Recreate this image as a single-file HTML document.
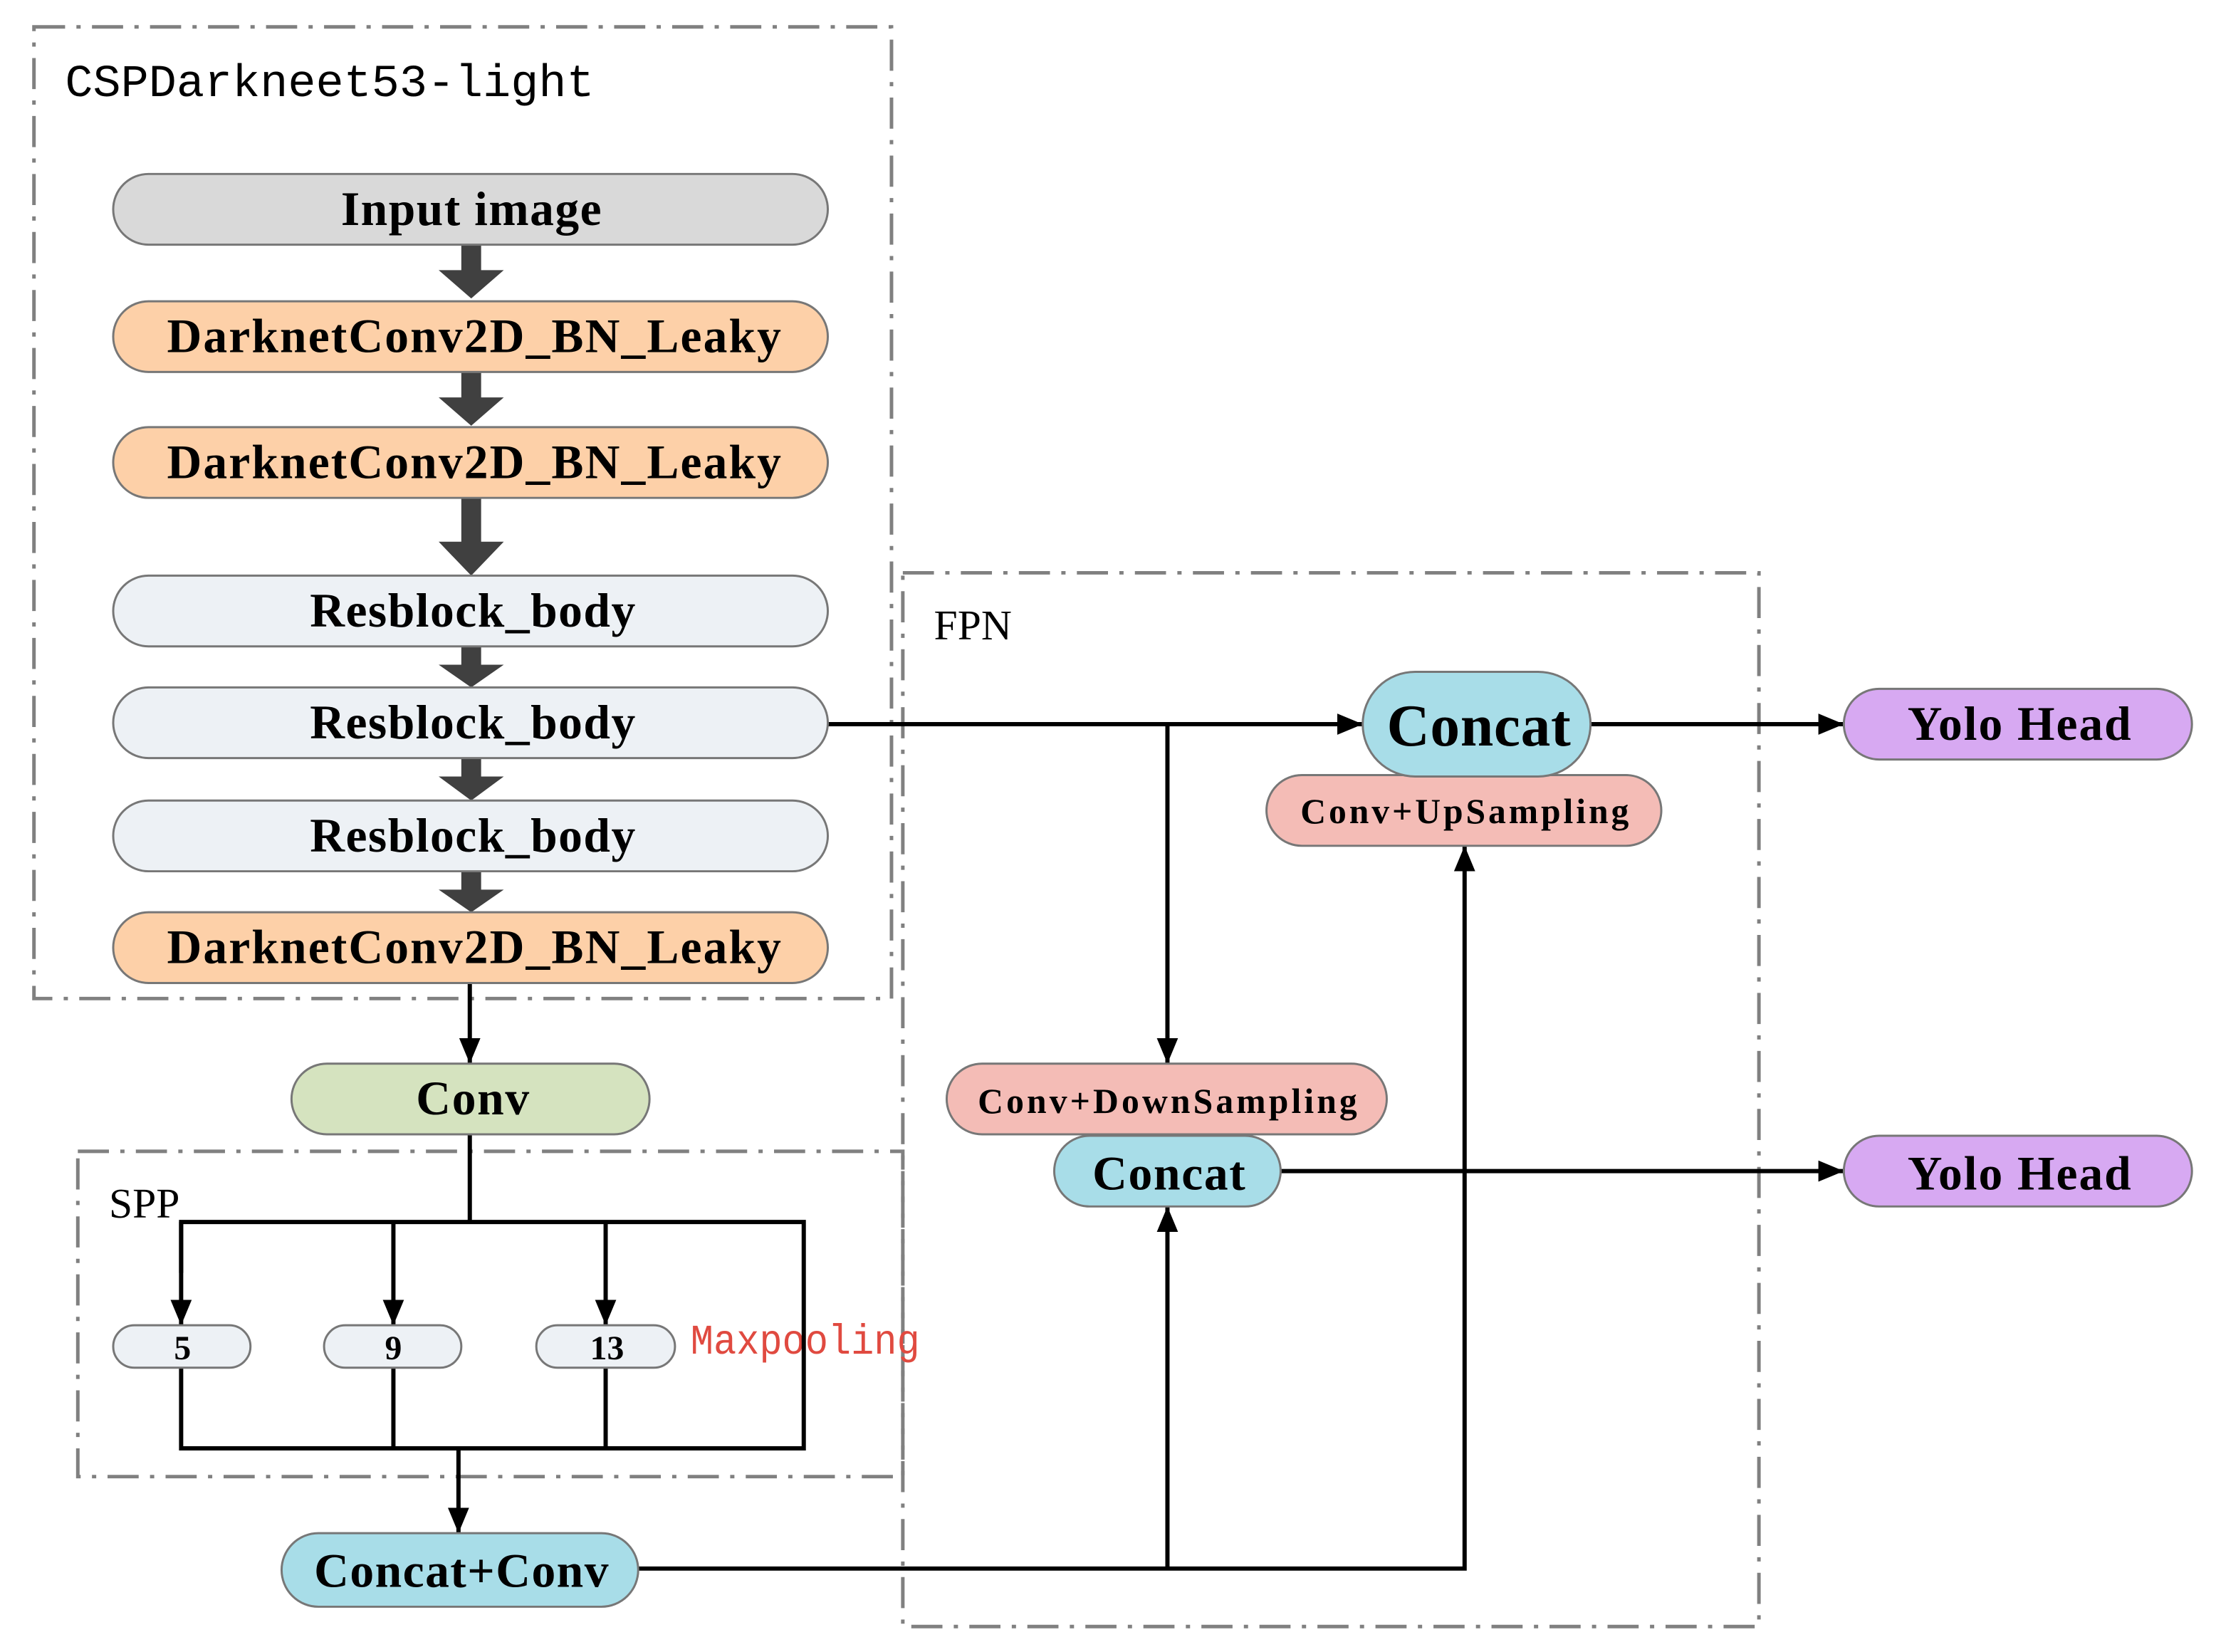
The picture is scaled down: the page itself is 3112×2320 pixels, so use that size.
<!DOCTYPE html>
<html><head><style>html,body{margin:0;padding:0;background:#fff}svg{display:block}</style></head><body>
<svg xmlns="http://www.w3.org/2000/svg" width="3112" height="2320" viewBox="0 0 1566 1168" preserveAspectRatio="none">
<defs>
<marker id="a" markerWidth="18" markerHeight="18" refX="18" refY="9" orient="auto" markerUnits="userSpaceOnUse" viewBox="0 0 18 18"><path d="M0,1.5 L18,9 L0,16.5 z" fill="#000"/></marker>
</defs>
<rect width="1566" height="1168" fill="#fff"/>
<g fill="none" stroke="#808080" stroke-width="2.5" stroke-dasharray="22,8,3,8">
<rect x="24" y="19" width="606" height="687"/>
<rect x="638" y="405" width="605" height="745"/>
<rect x="55" y="814" width="583" height="230"/>
</g>
<g font-family="Liberation Mono, monospace" font-size="32" fill="#000">
<text x="46" y="68" textLength="374" lengthAdjust="spacingAndGlyphs">CSPDarkneet53-light</text>
</g>
<text x="660" y="452" font-family="Liberation Serif, serif" font-size="30">FPN</text>
<text x="77" y="861" font-family="Liberation Serif, serif" font-size="30">SPP</text>
<text x="488" y="957" font-family="Liberation Mono, monospace" font-size="30" fill="#e04a40" textLength="162" lengthAdjust="spacingAndGlyphs">Maxpooling</text>
<g fill="#404040">
<path d="M326,173h14v18h16l-23,20l-23,-20h16z"/>
<path d="M326,263h14v18h16l-23,20l-23,-20h16z"/>
<path d="M326,352h14v31h16l-23,24l-23,-24h16z"/>
<path d="M326,457h14v13h16l-23,16l-23,-16h16z"/>
<path d="M326,536h14v13h16l-23,17l-23,-17h16z"/>
<path d="M326,616h14v13h16l-23,16l-23,-16h16z"/>
</g>
<g stroke="#000" stroke-width="3" fill="none">
<line x1="332" y1="695" x2="332" y2="752" marker-end="url(#a)"/>
<line x1="332" y1="802" x2="332" y2="864"/>
<polyline points="128,900 128,864 568,864 568,1024 128,1024 128,967"/>
<line x1="278" y1="864" x2="278" y2="937" marker-end="url(#a)"/>
<line x1="128" y1="864" x2="128" y2="937" marker-end="url(#a)"/>
<line x1="428" y1="864" x2="428" y2="937" marker-end="url(#a)"/>
<line x1="278" y1="967" x2="278" y2="1024"/>
<line x1="428" y1="967" x2="428" y2="1024"/>
<line x1="324" y1="1024" x2="324" y2="1084" marker-end="url(#a)"/>
<line x1="585" y1="512" x2="963" y2="512" marker-end="url(#a)"/>
<line x1="825" y1="512" x2="825" y2="752" marker-end="url(#a)"/>
<polyline points="451,1109 1035,1109 1035,598" marker-end="url(#a)"/>
<line x1="825" y1="1109" x2="825" y2="853" marker-end="url(#a)"/>
<line x1="1124" y1="512" x2="1303" y2="512" marker-end="url(#a)"/>
<line x1="905" y1="828" x2="1303" y2="828" marker-end="url(#a)"/>
</g>
<g stroke="#777" stroke-width="1.5">
<rect x="80" y="123" width="505" height="50" rx="25" fill="#d9d9d9"/>
<rect x="80" y="213" width="505" height="50" rx="25" fill="#fdd0a8"/>
<rect x="80" y="302" width="505" height="50" rx="25" fill="#fdd0a8"/>
<rect x="80" y="407" width="505" height="50" rx="25" fill="#edf1f5"/>
<rect x="80" y="486" width="505" height="50" rx="25" fill="#edf1f5"/>
<rect x="80" y="566" width="505" height="50" rx="25" fill="#edf1f5"/>
<rect x="80" y="645" width="505" height="50" rx="25" fill="#fdd0a8"/>
<rect x="206" y="752" width="253" height="50" rx="25" fill="#d5e3bf"/>
<rect x="80" y="937" width="97" height="30" rx="15" fill="#edf1f5"/>
<rect x="229" y="937" width="97" height="30" rx="15" fill="#edf1f5"/>
<rect x="379" y="937" width="98" height="30" rx="15" fill="#edf1f5"/>
<rect x="199" y="1084" width="252" height="52" rx="26" fill="#a8dde8"/>
<rect x="895" y="548" width="279" height="50" rx="25" fill="#f4bcb6"/>
<rect x="963" y="475" width="161" height="74" rx="37" fill="#a8dde8"/>
<rect x="669" y="752" width="311" height="50" rx="25" fill="#f4bcb6"/>
<rect x="745" y="803" width="160" height="50" rx="25" fill="#a8dde8"/>
<rect x="1303" y="487" width="246" height="50" rx="25" fill="#d7a9f2"/>
<rect x="1303" y="803" width="246" height="50" rx="25" fill="#d7a9f2"/>
</g>
<g font-family="Liberation Serif, serif" font-weight="bold" fill="#000" text-anchor="middle" font-size="34">
<text x="333" y="159" textLength="184">Input image</text>
<text x="335" y="249" textLength="434">DarknetConv2D_BN_Leaky</text>
<text x="335" y="338" textLength="434">DarknetConv2D_BN_Leaky</text>
<text x="334" y="443" textLength="230">Resblock_body</text>
<text x="334" y="522" textLength="230">Resblock_body</text>
<text x="334" y="602" textLength="230">Resblock_body</text>
<text x="335" y="681" textLength="434">DarknetConv2D_BN_Leaky</text>
<text x="334" y="788" textLength="80">Conv</text>
<text x="326" y="1122" textLength="208">Concat+Conv</text>
<text x="826" y="841" textLength="108">Concat</text>
<text x="1427" y="523" textLength="158">Yolo Head</text>
<text x="1427" y="841" textLength="158">Yolo Head</text>
<text x="1045" y="527" font-size="42" textLength="130">Concat</text>
<text x="1035" y="582" font-size="25" textLength="232">Conv+UpSampling</text>
<text x="825" y="787" font-size="25" textLength="268">Conv+DownSampling</text>
<text x="129" y="961" font-size="24">5</text>
<text x="278" y="961" font-size="24">9</text>
<text x="429" y="961" font-size="24">13</text>
</g>
</svg>
</body></html>
